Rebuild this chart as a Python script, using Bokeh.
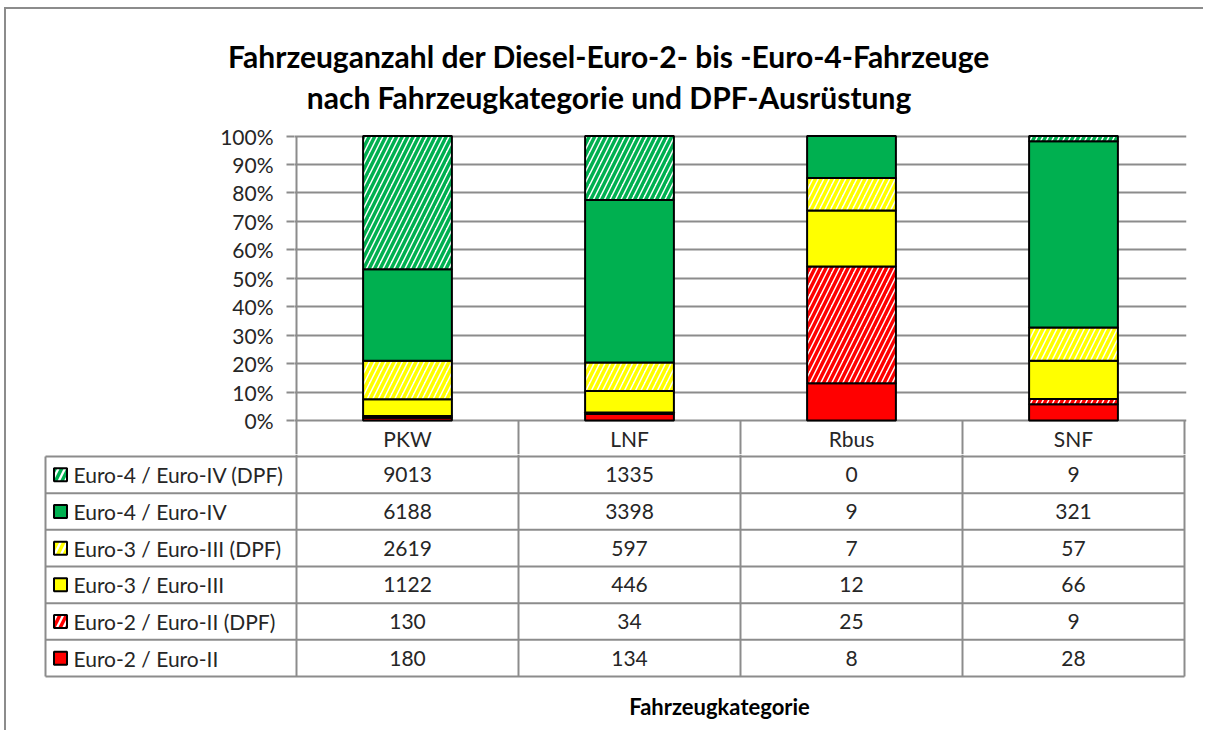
import numpy as np
from bokeh.plotting import figure
from bokeh.layouts import column
from bokeh.models import Range1d, FixedTicker, NumeralTickFormatter, ColumnDataSource
from bokeh.core.properties import value
from bokeh.embed import file_html
from bokeh.resources import INLINE

# ---------------- data ----------------
categories = ["PKW", "LNF", "Rbus", "SNF"]
# stack order bottom -> top
series_names = [
    "Euro-2 / Euro-II",
    "Euro-2  / Euro-II (DPF)",
    "Euro-3 / Euro-III",
    "Euro-3  / Euro-III (DPF)",
    "Euro-4 / Euro-IV",
    "Euro-4  / Euro-IV (DPF)",
]
euro2 = [180, 134, 8, 28]
euro2_dpf = [130, 34, 25, 9]
euro3 = [1122, 446, 12, 66]
euro3_dpf = [2619, 597, 7, 57]
euro4 = [6188, 3398, 9, 321]
euro4_dpf = [9013, 1335, 0, 9]
y_ticks = [0.0, 0.1, 0.2, 0.3, 0.4, 0.5, 0.6, 0.7, 0.8, 0.9, 1.0]
title_lines = ["Fahrzeuganzahl der Diesel-Euro-2- bis -Euro-4-Fahrzeuge",
               "nach Fahrzeugkategorie und DPF-Ausrüstung"]
x_title = "Fahrzeugkategorie"

# ---------------- styles ----------------
series_colors = ["#FF0000", "#FF0000", "#FFFF00", "#FFFF00", "#00B050", "#00B050"]
series_hatched = [False, True, False, True, False, True]
GRID = "#8c8c8c"
TXT = "#262626"
FONT = "Lato"

# page-pixel layout constants
X0, Y0 = 6, 9              # canvas origin (CSS margin)
XR = 1205                  # canvas right
YB = 732                   # canvas bottom
W = XR - X0
AXIS_X, RIGHT_X = 296, 1184
CAT_W = (RIGHT_X - AXIS_X) / len(categories)
Y100, YZERO = 135.5, 420.0
PXU = YZERO - Y100
T_BOTTOM = 118             # title figure bottom
S = 454                    # chart / table split
FR_L, FR_R, FR_T = 294, 1186, 133
HDR_Y = 437.5
ROW_TOP, ROW_BOT = 456.0, 676.0
LEG_X = 45
NO_SCROLL = {"overflow": "hidden"}


def ux(px):
    return -0.5 + (px - AXIS_X) / CAT_W


def uy(py):
    return (YZERO - py) / PXU


series_values = [euro2, euro2_dpf, euro3, euro3_dpf, euro4, euro4_dpf]
counts = np.array(series_values, dtype=float)
totals = counts.sum(axis=0)
shares = counts / totals
tops = np.cumsum(shares, axis=0)
bottoms = tops - shares
idx = np.arange(len(categories))

# ---------------- title figure ----------------
ft = figure(width=W, height=T_BOTTOM - Y0, x_range=Range1d(X0, XR), y_range=Range1d(T_BOTTOM, Y0),
            min_border=0, x_axis_location=None, y_axis_location=None, frame_align=False,
            toolbar_location=None, output_backend="svg", title=None, styles=NO_SCROLL)
ft.outline_line_color = None
ft.grid.visible = False
ft.text(x=[608.5, 608.5], y=[55.5, 96.5], text=title_lines, text_font=value(FONT),
        text_font_style="bold", text_font_size="30px", text_color="#000000",
        text_align="center", text_baseline="alphabetic")

# ---------------- chart figure ----------------
p = figure(width=W, height=S - T_BOTTOM,
           x_range=Range1d(ux(FR_L), ux(FR_R)), y_range=Range1d(uy(S), uy(FR_T)),
           min_border_left=FR_L - X0, min_border_right=XR - FR_R,
           min_border_top=FR_T - T_BOTTOM, min_border_bottom=0, frame_align=False,
           x_axis_location=None, toolbar_location=None, output_backend="svg", title=None,
           styles=NO_SCROLL)
p.outline_line_color = None
p.xgrid.visible = False
p.ygrid.ticker = FixedTicker(ticks=y_ticks)
p.ygrid.grid_line_color = GRID
p.ygrid.grid_line_width = 2
ax = p.yaxis[0]
ax.ticker = FixedTicker(ticks=y_ticks)
ax.formatter = NumeralTickFormatter(format="0%")
ax.bounds = (0, 1)
ax.axis_line_color = None
ax.major_tick_in = 0
ax.major_tick_out = 8
ax.major_tick_line_color = GRID
ax.major_tick_line_width = 2
ax.minor_tick_out = 0
ax.minor_tick_in = 0
ax.major_label_text_font = FONT
ax.major_label_text_font_size = "21px"
ax.major_label_text_color = TXT
ax.major_label_standoff = 13

# axis line and header column separators
bounds_x = np.arange(len(categories) + 1) - 0.5
p.segment(x0=[bounds_x[0]], y0=[1.0], x1=[bounds_x[0]], y1=[uy(S)], line_color=GRID, line_width=2)
p.segment(x0=bounds_x[1:], y0=[0.0] * len(categories), x1=bounds_x[1:], y1=[uy(S)] * len(categories),
          line_color=GRID, line_width=2)

for k in range(len(series_names)):
    src = ColumnDataSource(dict(x=idx, bottom=bottoms[k], top=tops[k]))
    if series_hatched[k]:
        p.vbar(x="x", bottom="bottom", top="top", width=0.4, source=src,
               fill_color="white", hatch_pattern="/", hatch_color=series_colors[k],
               hatch_scale=11, hatch_weight=3.5, line_color="black", line_width=2)
    else:
        p.vbar(x="x", bottom="bottom", top="top", width=0.4, source=src,
               fill_color=series_colors[k], line_color="black", line_width=2)

p.text(x=idx, y=[uy(HDR_Y)] * len(categories), text=categories, text_font=value(FONT),
       text_font_size="21px", text_color=TXT, text_align="center", text_baseline="middle")

# ---------------- table figure ----------------
t = figure(width=W, height=YB - S, x_range=Range1d(ux(X0), ux(XR)), y_range=Range1d(YB, S),
           min_border=0, x_axis_location=None, y_axis_location=None, frame_align=False,
           toolbar_location=None, output_backend="svg", title=None, styles=NO_SCROLL)
t.outline_line_color = None
t.grid.visible = False

n = len(series_names)
row_h = (ROW_BOT - ROW_TOP) / n
row_lines = ROW_TOP + np.arange(n + 1) * row_h
t.segment(x0=[ux(LEG_X)] * (n + 1), y0=row_lines, x1=[bounds_x[-1]] * (n + 1), y1=row_lines,
          line_color=GRID, line_width=2)
t.segment(x0=[ux(LEG_X)], y0=[ROW_TOP], x1=[ux(LEG_X)], y1=[ROW_BOT], line_color=GRID, line_width=2)
t.segment(x0=bounds_x, y0=[S] * len(bounds_x), x1=bounds_x, y1=[ROW_BOT] * len(bounds_x),
          line_color=GRID, line_width=2)

order = list(range(n))[::-1]   # table rows top -> bottom
row_c = ROW_TOP + (np.arange(n) + 0.5) * row_h
for r, k in enumerate(order):
    if series_hatched[k]:
        t.rect(x=[ux(60)], y=[row_c[r]], width=13, height=13, width_units="screen", height_units="screen",
               fill_color="white", hatch_pattern="/", hatch_color=series_colors[k],
               hatch_scale=13, hatch_weight=3.5, line_color="black", line_width=2)
    else:
        t.rect(x=[ux(60)], y=[row_c[r]], width=13, height=13, width_units="screen", height_units="screen",
               fill_color=series_colors[k], line_color="black", line_width=2)
    t.text(x=[ux(73)], y=[row_c[r]], text=[series_names[k]], text_font=value(FONT),
           text_font_size="21px", text_color=TXT, text_align="left", text_baseline="middle")
    t.text(x=idx, y=[row_c[r]] * len(categories), text=[str(v) for v in series_values[k]],
           text_font=value(FONT), text_font_size="21px", text_color=TXT,
           text_align="center", text_baseline="middle")

t.text(x=[ux(719)], y=[706], text=[x_title], text_font=value(FONT), text_font_style="bold",
       text_font_size="22px", text_color="#000000", text_align="center", text_baseline="middle")

layout = column(ft, p, t, styles={"margin-left": f"{X0}px", "margin-top": f"{Y0}px",
                                  "overflow": "hidden",
                                  "box-shadow": "-2px -2px 0 0 #8c8c8c"})

open("out.html", "w").write(file_html(layout, INLINE))
